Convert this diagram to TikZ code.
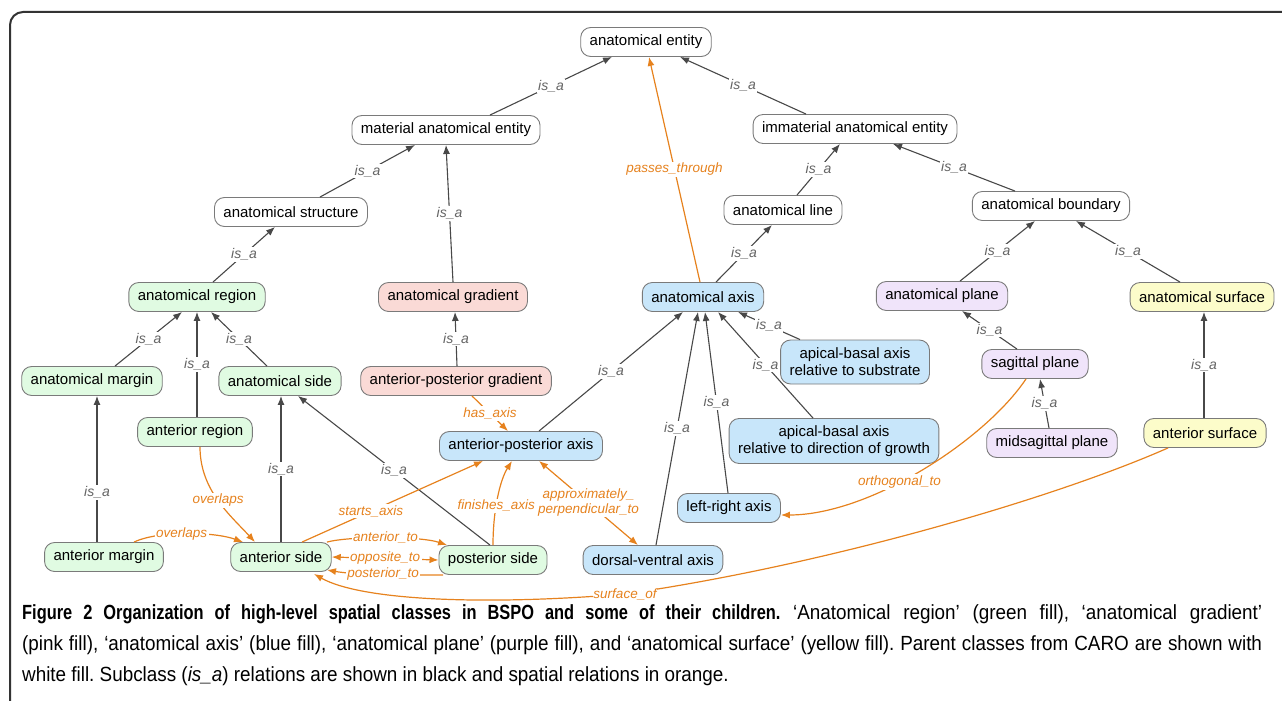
\documentclass[tikz,border=0pt]{standalone}
\usepackage{fontspec}
\setmainfont{Liberation Sans}
\newfontfamily\capfont[FakeStretch=0.92]{Liberation Sans}
\newfontfamily\capboldfont[FakeStretch=0.8]{Liberation Sans Bold}
\usetikzlibrary{arrows.meta}
\frenchspacing

\definecolor{boxgray}{RGB}{122,122,122}
\definecolor{isagray}{RGB}{72,72,72}
\definecolor{labgray}{RGB}{100,100,100}
\definecolor{relorange}{RGB}{230,130,30}
\definecolor{regfill}{RGB}{224,251,226}
\definecolor{gradfill}{RGB}{250,218,214}
\definecolor{axisfill}{RGB}{200,230,250}
\definecolor{planefill}{RGB}{240,228,250}
\definecolor{surffill}{RGB}{252,252,202}

\newcommand\clsfont{\fontsize{15}{17}\selectfont}
\newcommand\labfont{\fontsize{14}{16}\selectfont\itshape}
\newcommand\relfont{\fontsize{13.5}{15}\selectfont\itshape}
\newcommand\capsize{\capfont\fontsize{20.5}{24}\selectfont}

\tikzset{
  cls/.style={draw=boxgray, line width=0.9pt, rounded corners=10pt,
    minimum height=29pt, inner xsep=9pt, inner ysep=3pt, fill=white,
    align=center, font=\clsfont},
  caro/.style={cls},
  region/.style={cls, fill=regfill},
  gradient/.style={cls, fill=gradfill},
  axis/.style={cls, fill=axisfill},
  plane/.style={cls, fill=planefill},
  surface/.style={cls, fill=surffill},
  isa/.style={draw=isagray, line width=1.1pt, -{Latex[length=9pt,width=7pt]}},
  rel/.style={draw=relorange, line width=1.2pt, -{Latex[length=9pt,width=7pt]}},
  isalab/.style={font=\labfont, text=labgray, fill=white, inner sep=1.5pt},
  rellab/.style={font=\relfont, text=relorange, fill=white, inner sep=1.5pt},
  capline/.style={anchor=base west, inner sep=0, font=\capsize},
}

\begin{document}
\begin{tikzpicture}[x=1pt,y=-1pt]
  \useasboundingbox (0,0) rectangle (1282,701);
  \clip (0,0) rectangle (1282,701);
  \draw[line width=2pt, black!80, rounded corners=13pt] (10,12) rectangle (1310,730);

  % CARO parents
  \node[caro] (ent) at (646,42) {anatomical entity};
  \node[caro] (mat) at (446,130) {material anatomical entity};
  \node[caro] (imm) at (855,129) {immaterial anatomical entity};
  \node[caro] (str) at (291,212) {anatomical structure};
  \node[caro] (line) at (783,210) {anatomical line};
  \node[caro] (bnd) at (1051,206) {anatomical boundary};

  % BSPO classes
  \node[region] (reg) at (197,297) {anatomical region};
  \node[gradient] (grad) at (453,297) {anatomical gradient};
  \node[axis] (axs) at (703,297) {anatomical axis};
  \node[plane] (pln) at (942,296) {anatomical plane};
  \node[surface] (surf) at (1202,297) {anatomical surface};

  \node[region] (marg) at (92,381) {anatomical margin};
  \node[region] (side) at (280,381) {anatomical side};
  \node[gradient] (apg) at (456,381) {anterior-posterior gradient};
  \node[axis, minimum height=44pt] (sub) at (855,362) {apical-basal axis\\relative to substrate};
  \node[plane] (sag) at (1035,364) {sagittal plane};

  \node[region] (areg) at (195,432) {anterior region};
  \node[axis] (apa) at (521,446) {anterior-posterior axis};
  \node[axis, minimum height=45pt] (grow) at (834,441) {apical-basal axis\\relative to direction of growth};
  \node[plane] (msag) at (1052,443) {midsagittal plane};
  \node[surface] (asurf) at (1205,433) {anterior surface};

  \node[axis] (lr) at (729,508) {left-right axis};
  \node[region] (amarg) at (104,557) {anterior margin};
  \node[region] (aside) at (281,557) {anterior side};
  \node[region] (pside) at (493,560) {posterior side};
  \node[axis] (dv) at (653,560) {dorsal-ventral axis};

  % is_a relations
  \draw[isa] ([xshift=44pt]mat.north) -- node[isalab]{is\_a} ([xshift=-34pt]ent.south);
  \draw[isa] ([xshift=-49pt]imm.north) -- node[isalab]{is\_a} ([xshift=34pt]ent.south);
  \draw[isa] ([xshift=29pt]str.north) -- node[isalab]{is\_a} ([xshift=-31pt]mat.south);
  \draw[isa] ([xshift=0pt]grad.north) -- node[isalab]{is\_a} ([xshift=0pt]mat.south);
  \draw[isa] ([xshift=14pt]line.north) -- node[isalab]{is\_a} ([xshift=-15pt]imm.south);
  \draw[isa] ([xshift=-36pt]bnd.north) -- node[isalab]{is\_a} ([xshift=38pt]imm.south);
  \draw[isa] ([xshift=16pt]reg.north) -- node[isalab]{is\_a} ([xshift=-16pt]str.south);
  \draw[isa] ([xshift=13pt]axs.north) -- node[isalab]{is\_a} ([xshift=-11pt]line.south);
  \draw[isa] ([xshift=18pt]pln.north) -- node[isalab]{is\_a} ([xshift=-16pt]bnd.south);
  \draw[isa] ([xshift=-22pt]surf.north) -- node[isalab]{is\_a} ([xshift=25pt]bnd.south);
  \draw[isa] ([xshift=23pt]marg.north) -- node[isalab]{is\_a} ([xshift=-15pt]reg.south);
  \draw[isa] ([xshift=2pt]areg.north) -- node[isalab]{is\_a} ([xshift=0pt]reg.south);
  \draw[isa] ([xshift=-13pt]side.north) -- node[isalab]{is\_a} ([xshift=14pt]reg.south);
  \draw[isa] ([xshift=1pt]apg.north) -- node[isalab]{is\_a} ([xshift=2pt]grad.south);
  \draw[isa] ([xshift=-55pt]sub.north) -- node[isalab]{is\_a} ([xshift=35pt]axs.south);
  \draw[isa] ([xshift=-21pt]grow.north) -- node[isalab]{is\_a} ([xshift=15pt]axs.south);
  \draw[isa] ([xshift=-1pt]lr.north) -- node[isalab]{is\_a} ([xshift=2pt]axs.south);
  \draw[isa] ([xshift=3pt]dv.north) -- node[isalab]{is\_a} ([xshift=-5pt]axs.south);
  \draw[isa] ([xshift=18pt]apa.north) -- node[isalab]{is\_a} ([xshift=-20pt]axs.south);
  \draw[isa] ([xshift=-18pt]sag.north) -- node[isalab]{is\_a} ([xshift=20pt]pln.south);
  \draw[isa] ([xshift=-3pt]msag.north) -- node[isalab]{is\_a} ([xshift=5pt]sag.south);
  \draw[isa] ([xshift=-1pt]asurf.north) -- node[isalab]{is\_a} ([xshift=2pt]surf.south);
  \draw[isa] ([xshift=-7pt]amarg.north) -- node[isalab, pos=0.34]{is\_a} ([xshift=5pt]marg.south);
  \draw[isa] ([xshift=0pt]aside.north) -- node[isalab]{is\_a} ([xshift=1pt]side.south);
  \draw[isa] ([xshift=-3pt]pside.north) -- node[isalab]{is\_a} ([xshift=18pt]side.south);

  % spatial relations
  \draw[rel] ([xshift=-3pt]axs.north) -- node[rellab]{passes\_through} ([xshift=3pt]ent.south);
  \draw[rel] ([xshift=16pt]apg.south) -- node[rellab]{has\_axis} ([xshift=-13pt]apa.north);
  \draw[rel] ([xshift=5pt]areg.south) .. controls (200,490) and (230,515)
    .. node[rellab]{overlaps} ([xshift=-26pt]aside.north);
  \draw[rel] ([xshift=30pt]amarg.north) .. controls (160,530) and (215,532)
    .. node[rellab, pos=0.45]{overlaps} ([xshift=-38pt]aside.north);
  \draw[rel] ([xshift=21pt]aside.north) -- node[rellab, pos=0.38]{starts\_axis} ([xshift=-38pt]apa.south);
  \draw[rel] (pside.north) .. controls (493,510) and (500,480)
    .. node[rellab, pos=0.4]{finishes\_axis} ([xshift=-9pt]apa.south);
  \draw[rel, {Latex[length=9pt,width=7pt]}-{Latex[length=9pt,width=7pt]}] ([xshift=18pt]apa.south)
    -- node[rellab, align=center, inner sep=0.5pt]{approximately\_\\perpendicular\_to} ([xshift=-15pt]dv.north);
  \draw[rel] ([xshift=46pt]aside.north) .. controls (350,536) and (420,536)
    .. node[rellab]{anterior\_to} ([xshift=-46pt]pside.north);
  \draw[rel, {Latex[length=9pt,width=7pt]}-{Latex[length=9pt,width=7pt]}] (aside.east)
    -- node[rellab]{opposite\_to} (pside.west);
  \draw[rel] ([xshift=-50pt]pside.south) .. controls (410,575) and (355,575)
    .. node[rellab]{posterior\_to} ([xshift=46pt,yshift=2pt]aside.south);
  \draw[rel] ([xshift=-9pt]sag.south) .. controls (985,440) and (870,515)
    .. node[rellab, pos=0.58]{orthogonal\_to} ([yshift=-7pt]lr.east);
  \draw[rel] ([xshift=-37pt]asurf.south) .. controls (1050,500) and (820,566)
    .. (625,594) node[rellab, inner sep=0.5pt]{surface\_of}
    .. controls (480,606) and (360,600) .. ([xshift=33pt,yshift=-2pt]aside.south);

  % caption
  \node[capline] (cap1) at (22,619)
    {\makebox[1240pt][s]{{\capboldfont Figure 2 Organization of high-level spatial classes in BSPO and some of their children.} ‘Anatomical region’ (green fill), ‘anatomical gradient’}};
  \node[capline] (cap2) at (22,650)
    {\makebox[1240pt][s]{(pink fill), ‘anatomical axis’ (blue fill), ‘anatomical plane’ (purple fill), and ‘anatomical surface’ (yellow fill). Parent classes from CARO are shown with}};
  \node[capline] (cap3) at (22,681)
    {white fill. Subclass (\textit{is\_a}) relations are shown in black and spatial relations in orange.};
\end{tikzpicture}
\end{document}
